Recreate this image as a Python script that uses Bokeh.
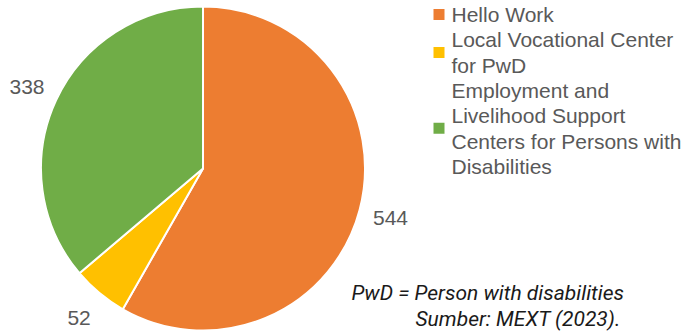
import math
from bokeh.plotting import figure
from bokeh.models import Range1d, ColumnDataSource
from bokeh.core.properties import value
from bokeh.embed import file_html
from bokeh.resources import INLINE

# ---- data ----
categories = ["Hello Work", "Local Vocational Center for PwD",
              "Employment and Livelihood Support Centers for Persons with Disabilities"]
legend_lines = [["Hello Work"],
                ["Local Vocational Center", "for PwD"],
                ["Employment and", "Livelihood Support", "Centers for Persons with", "Disabilities"]]
counts = [544, 52, 338]
colors = ["#ED7D31", "#FFC000", "#70AD47"]
note_lines = ["PwD = Person with disabilities", "Sumber: MEXT (2023)."]

W, H = 692, 331
p = figure(width=W, height=H, x_range=Range1d(0, W), y_range=Range1d(0, H),
           output_backend="svg", toolbar_location=None, min_border=0,
           outline_line_color=None, background_fill_color="white")
p.axis.visible = False
p.grid.visible = False

# pie geometry
cx, cy, r = 202.5, 163.0, 162.0
total = sum(counts)
starts, ends, lx, ly = [], [], [], []
cum = 0
for c in counts:
    a0 = math.pi / 2 - 2 * math.pi * (cum + c) / total
    a1 = math.pi / 2 - 2 * math.pi * cum / total
    starts.append(a0)
    ends.append(a1)
    mid = (a0 + a1) / 2
    lx.append(cx + 194 * math.cos(mid))
    ly.append(cy + 194 * math.sin(mid))
    cum += c

src = ColumnDataSource(dict(start=starts, end=ends, color=colors, cat=categories,
                            lx=lx, ly=ly, lab=[str(c) for c in counts]))
p.wedge(x=cx, y=cy, radius=r, start_angle="start", end_angle="end",
        fill_color="color", line_color="white", line_width=2, source=src)
p.text(x="lx", y="ly", text="lab", source=src, text_align="center",
       text_baseline="middle", text_font=value("Liberation Sans"),
       text_font_size="21px", text_color="#595959")

# legend (manual)
step = 25.3
y0 = H - 14
tx, ty, tt = [], [], []
sx, sy = [], []
line_idx = 0
for lines in legend_lines:
    ys = []
    for ln in lines:
        yy = y0 - step * line_idx
        tx.append(451)
        ty.append(yy)
        tt.append(ln)
        ys.append(yy)
        line_idx += 1
    sx.append(438.5)
    sy.append(sum(ys) / len(ys))
p.scatter(x=sx, y=sy, marker="square", size=11, fill_color=colors, line_color=None)
p.text(x=tx, y=ty, text=tt, text_align="left", text_baseline="middle",
       text_font=value("Liberation Sans"), text_font_size="21px", text_color="#595959")

# footnote
p.text(x=[351, 415], y=[H - 292, H - 318], text=note_lines, text_align="left",
       text_baseline="middle", text_font=value("Roboto"), text_font_style="italic",
       text_font_size="21px", text_color="#1a1a1a")

open("out.html", "w").write(file_html(p, INLINE))
